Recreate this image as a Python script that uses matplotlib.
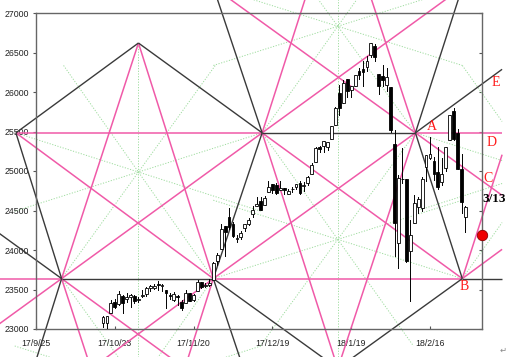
import numpy as np
import matplotlib
matplotlib.use('Agg')
import matplotlib.pyplot as plt
from matplotlib.patches import Rectangle

# ---------------- data: daily candles (bar index counted from 17/9/25) ----------------
first_bar = 17
dates = ['10/18','10/19','10/20','10/23','10/24','10/25','10/26','10/27','10/30','10/31',
         '11/1','11/2','11/3','11/6','11/7','11/8','11/9','11/10','11/13','11/14','11/15',
         '11/16','11/17','11/20','11/21','11/22','11/24','11/27','11/28','11/29','11/30',
         '12/1','12/4','12/5','12/6','12/7','12/8','12/11','12/12','12/13','12/14','12/15',
         '12/18','12/19','12/20','12/21','12/22','12/26','12/27','12/28','12/29',
         '1/2','1/3','1/4','1/5','1/8','1/9','1/10','1/11','1/12','1/16','1/17','1/18','1/19',
         '1/22','1/23','1/24','1/25','1/26','1/29','1/30','1/31',
         '2/1','2/2','2/5','2/6','2/7','2/8','2/9','2/12','2/13','2/14','2/15','2/16',
         '2/20','2/21','2/22','2/23','2/26','2/27','2/28','3/1','3/2']
opens = [23070,23070,23205,23345,23311,23424,23381,23400,23424,23369,
         23413,23446,23516,23522,23567,23539,23493,23435,23366,23415,23345,
         23335,23459,23367,23480,23591,23547,23559,23616,23860,24011,
         24305,24424,24335,24140,24162,24275,24324,24452,24556,24619,24568,
         24739,24839,24826,24761,24783,24715,24766,24795,24850,
         24809,24851,24964,25115,25308,25312,25307,25405,25586,25987,25865,26167,26025,
         26070,26263,26287,26313,26466,26584,26229,26198,
         26083,26061,25338,24085,24902,24903,23992,24337,24541,24535,25050,25166,
         25124,24988,24858,25033,25389,25756,25484,25024,24414]
highs = [23166,23168,23368,23375,23485,23433,23450,23448,23425,23400,
         23490,23528,23557,23564,23602,23567,23493,23462,23464,23428,23363,
         23494,23459,23442,23618,23591,23579,23639,23852,23962,24327,
         24305,24534,24350,24195,24240,24330,24402,24552,24668,24671,24689,
         24876,24839,24850,24872,24784,24778,24800,24838,24872,
         24864,24941,25105,25300,25311,25385,25373,25575,25806,26086,26154,26167,26072,
         26215,26300,26393,26458,26617,26608,26229,26338,
         26307,26061,25521,24946,25294,24903,24382,24691,24668,24925,25200,25432,
         25179,25300,25170,25310,25709,25800,25528,25213,24562]
lows = [23021,22985,23205,23262,23310,23202,23344,23283,23325,23340,
        23401,23424,23483,23503,23500,23480,23264,23383,23350,23309,23242,
        23335,23350,23360,23480,23517,23530,23540,23616,23810,24011,
        23921,24260,24169,24099,24142,24239,24311,24420,24556,24508,24568,
        24739,24717,24707,24761,24715,24715,24729,24775,24708,
        24742,24825,24963,25115,25235,25236,25264,25405,25586,25710,25865,25942,25939,
        26070,26163,26071,26262,26439,26396,25975,26082,
        26014,25490,23923,23778,24842,23849,23360,24337,24470,24494,24877,25149,
        24884,24775,24822,24997,25389,25394,25029,24472,24227]
closes = [23158,23163,23329,23274,23442,23329,23401,23434,23349,23377,
          23435,23516,23539,23548,23557,23563,23462,23422,23440,23409,23271,
          23458,23358,23430,23591,23526,23558,23581,23837,23941,24272,
          24232,24290,24181,24141,24211,24329,24386,24505,24585,24509,24652,
          24792,24755,24727,24782,24754,24746,24774,24838,24719,
          24824,24923,25075,25296,25283,25386,25369,25575,25803,25793,26116,26018,26072,
          26215,26211,26252,26393,26617,26439,26077,26149,
          26187,25521,24346,24913,24893,23860,24191,24601,24640,24893,25200,25219,
          24965,24798,24962,25310,25709,25410,25029,24609,24538]

tick_pos = [0, 20, 40, 60, 80, 100]
tick_labels = ['17/9/25', '17/10/23', '17/11/20', '17/12/19', '18/1/19', '18/2/16']
y_ticks = list(range(23000, 27001, 500))

# ---------------- geometric construction: pivot points (bar index, price) ----------------
level_hi = 25483
level_lo = 23638
apex_hi = 26620
apex_lo = level_lo - (apex_hi - level_hi)
pivot_names = ['T', 'U1', 'U2', 'U3', 'D1', 'D2', 'D3', 'Tb', 'Tc', 'Cw1', 'Cw2',
               'Ta', 'Aw1', 'Aw2', 'BL', 'Tr', 'Ur', 'Dr']
pivot_x = [26.0, -5.1, 57.4, 96.3, 6.5, 45.0, 108.2, 76.6, 76.6, 45.0, 108.2,
           26.0, -5.1, 57.4, -44.5, 127.4, 158.5, 146.6]
pivot_p = [apex_hi, level_hi, level_hi, level_hi, level_lo, level_lo, level_lo,
           apex_lo, 2 * level_hi - apex_lo, 2 * level_hi - level_lo, 2 * level_hi - level_lo,
           2 * level_lo - apex_hi, 2 * level_lo - level_hi, 2 * level_lo - level_hi,
           level_hi, apex_hi, level_hi, level_lo]
P = {n: (x, p) for n, x, p in zip(pivot_names, pivot_x, pivot_p)}

# segments: (from, to, t0, t1) along the line from->to
black_segs = [('U1', 'T', 0, 1), ('T', 'U2', 0, 1), ('U1', 'D1', 0, 1), ('U2', 'D2', 0, 1),
              ('D1', 'D2', 0, 1), ('D1', 'Aw1', 0, 1), ('D2', 'Aw2', 0, 1), ('D1', 'BL', 0, 1),
              ('Tb', 'D2', 0, 1), ('Tb', 'D3', 0, 1), ('D3', 'U3', 0, 1), ('U2', 'U3', 0, 1),
              ('Cw1', 'U2', 0, 1), ('Cw2', 'U3', 0, 1), ('U3', 'Tr', 0, 1), ('D3', 'Dr', 0, 1)]
pink_segs = [('U1', 'U2', 0, 1), ('U3', 'Ur', 0, 1), ('D1', 'D2', -1, 0), ('D2', 'D3', 0, 1),
             ('T', 'D1', 0, 1), ('T', 'D2', 0, 1), ('U1', 'D2', 0, 1), ('D1', 'U2', -0.4, 2.0),
             ('D1', 'Ta', 0, 1), ('D2', 'Ta', 0, 1), ('D1', 'Aw2', 0, 1), ('D2', 'Aw1', 0, 1),
             ('Tb', 'U2', 0, 1), ('Tb', 'U3', 0, 1), ('D2', 'U3', 0, 1), ('D3', 'U2', 0, 1),
             ('Tc', 'U2', 0, 1), ('Tc', 'U3', 0, 1), ('Cw1', 'U3', 0, 2), ('D3', 'Tr', 0, 1),
             ('D3', 'Ur', 0, 1)]
# dotted "wheels": centre and the pivots whose lines pass through it
star_centres = {'A': (26.0, 24987), 'B': (76.6, 24134), 'C': (76.6, 26832),
                'A2': (26.0, 22289), 'R': (127.4, 24987)}
star_pivots = {'A': ['U1', 'U2', 'D1', 'D2'], 'B': ['U2', 'U3', 'D2', 'D3'],
               'C': ['U2', 'U3', 'Cw1', 'Cw2'], 'A2': ['D1', 'D2', 'Aw1', 'Aw2'],
               'R': ['U3', 'Ur', 'D3', 'Dr']}
right_limit = 118.3

forecast_price = 24190

# ---------------- figure ----------------
W, H = 509, 357
fig = plt.figure(figsize=(W / 100, H / 100), dpi=100)
ax = fig.add_axes([36 / W, (H - 329) / H, 446 / W, 316 / H])
ax.set_xlim(0, 113.2)
ax.set_ylim(23000, 27000)

BLACK = '#3a3a3a'
PINK = '#f05aa8'
GREEN = '#9edc9e'


def clip_right(x0, y0, x1, y1):
    if x0 > x1:
        x0, y0, x1, y1 = x1, y1, x0, y0
    if x1 > right_limit and x1 != x0:
        y1 = y0 + (y1 - y0) * (right_limit - x0) / (x1 - x0)
        x1 = right_limit
    return [x0, x1], [y0, y1]


def seg_line(a, b, t0, t1, **kw):
    (xa, ya), (xb, yb) = P[a], P[b]
    x0, y0 = xa + t0 * (xb - xa), ya + t0 * (yb - ya)
    x1, y1 = xa + t1 * (xb - xa), ya + t1 * (yb - ya)
    xs, ys = clip_right(x0, y0, x1, y1)
    ax.plot(xs, ys, clip_on=False, solid_capstyle='butt', **kw)


# dotted wheels
for key, (gx, gy) in star_centres.items():
    for n in star_pivots[key]:
        px, pp = P[n]
        xs, ys = clip_right(px, pp, 2 * gx - px, 2 * gy - pp)
        ax.plot(xs, ys, color=GREEN, lw=0.7, ls=(0, (1.2, 1.6)), clip_on=False, zorder=1)
ax.plot([P['T'][0]] * 2, [P['T'][1], 20000], color=GREEN, lw=0.7, ls=(0, (1.2, 1.6)),
        clip_on=False, zorder=1)
ax.plot([P['Tb'][0]] * 2, [29500, 20000], color=GREEN, lw=0.7, ls=(0, (1.2, 1.6)),
        clip_on=False, zorder=1)

for a, b, t0, t1 in pink_segs:
    seg_line(a, b, t0, t1, color=PINK, lw=1.1, zorder=2)
for a, b, t0, t1 in black_segs:
    seg_line(a, b, t0, t1, color=BLACK, lw=1.0, zorder=3)

# candles
bar_x = np.arange(first_bar, first_bar + len(closes))
w = 0.72
for x, o, h, l, c in zip(bar_x, opens, highs, lows, closes):
    ax.plot([x, x], [l, h], color='black', lw=0.7, zorder=5)
    lo_, hi_ = min(o, c), max(o, c)
    ht = max(hi_ - lo_, 12)
    ax.add_patch(Rectangle((x - w / 2, lo_), w, ht, facecolor='white' if c >= o else 'black',
                           edgecolor='black', lw=0.6, zorder=6))

# axes styling
for s in ax.spines.values():
    s.set_color('#666666')
    s.set_linewidth(1.0)
    s.set_zorder(4)
ax.set_yticks(y_ticks)
ax.set_yticklabels([str(v) for v in y_ticks])
ax.set_xticks(tick_pos)
ax.set_xticklabels(tick_labels)
ax.tick_params(axis='y', direction='out', length=2.5, width=0.8, color='#555555', pad=2.5,
               labelsize=6.3, labelcolor='#222222')
ax.tick_params(axis='x', direction='in', length=2.5, width=0.8, color='#555555', pad=7,
               labelsize=6.3, labelcolor='#222222')
for lab in ax.get_xticklabels() + ax.get_yticklabels():
    lab.set_fontfamily('Liberation Sans')
sec = ax.secondary_yaxis('right')
sec.set_yticks(y_ticks)
sec.tick_params(direction='in', length=2.5, width=0.8, color='#555555', labelright=False)
sec.spines['right'].set_visible(False)

# annotations
lab_kw = dict(color='#ff1a1a', fontsize=10, family='Liberation Serif', ha='center',
              va='center', clip_on=False, zorder=8)
ax.text(100.4, 25561, 'A', **lab_kw)
ax.text(108.6, 23532, 'B', **lab_kw)
ax.text(114.7, 24911, 'C', **lab_kw)
ax.text(115.7, 25367, 'D', **lab_kw)
ax.text(116.7, 26114, 'E', **lab_kw)
ax.text(116.4, 24646, '3/13', color='black', fontsize=9.5, fontweight='bold',
        family='Liberation Serif', ha='center', va='center', clip_on=False, zorder=8)
ax.plot([113.2], [forecast_price], 'o', ms=7.5, mfc='#ee0000', mec='#880000', mew=0.6,
        clip_on=False, zorder=9)
fig.text(503 / W, 1 - 350 / H, '\u21b5', fontsize=6, color='#888888', ha='center', va='center')

fig.savefig('out.png', dpi=100)
